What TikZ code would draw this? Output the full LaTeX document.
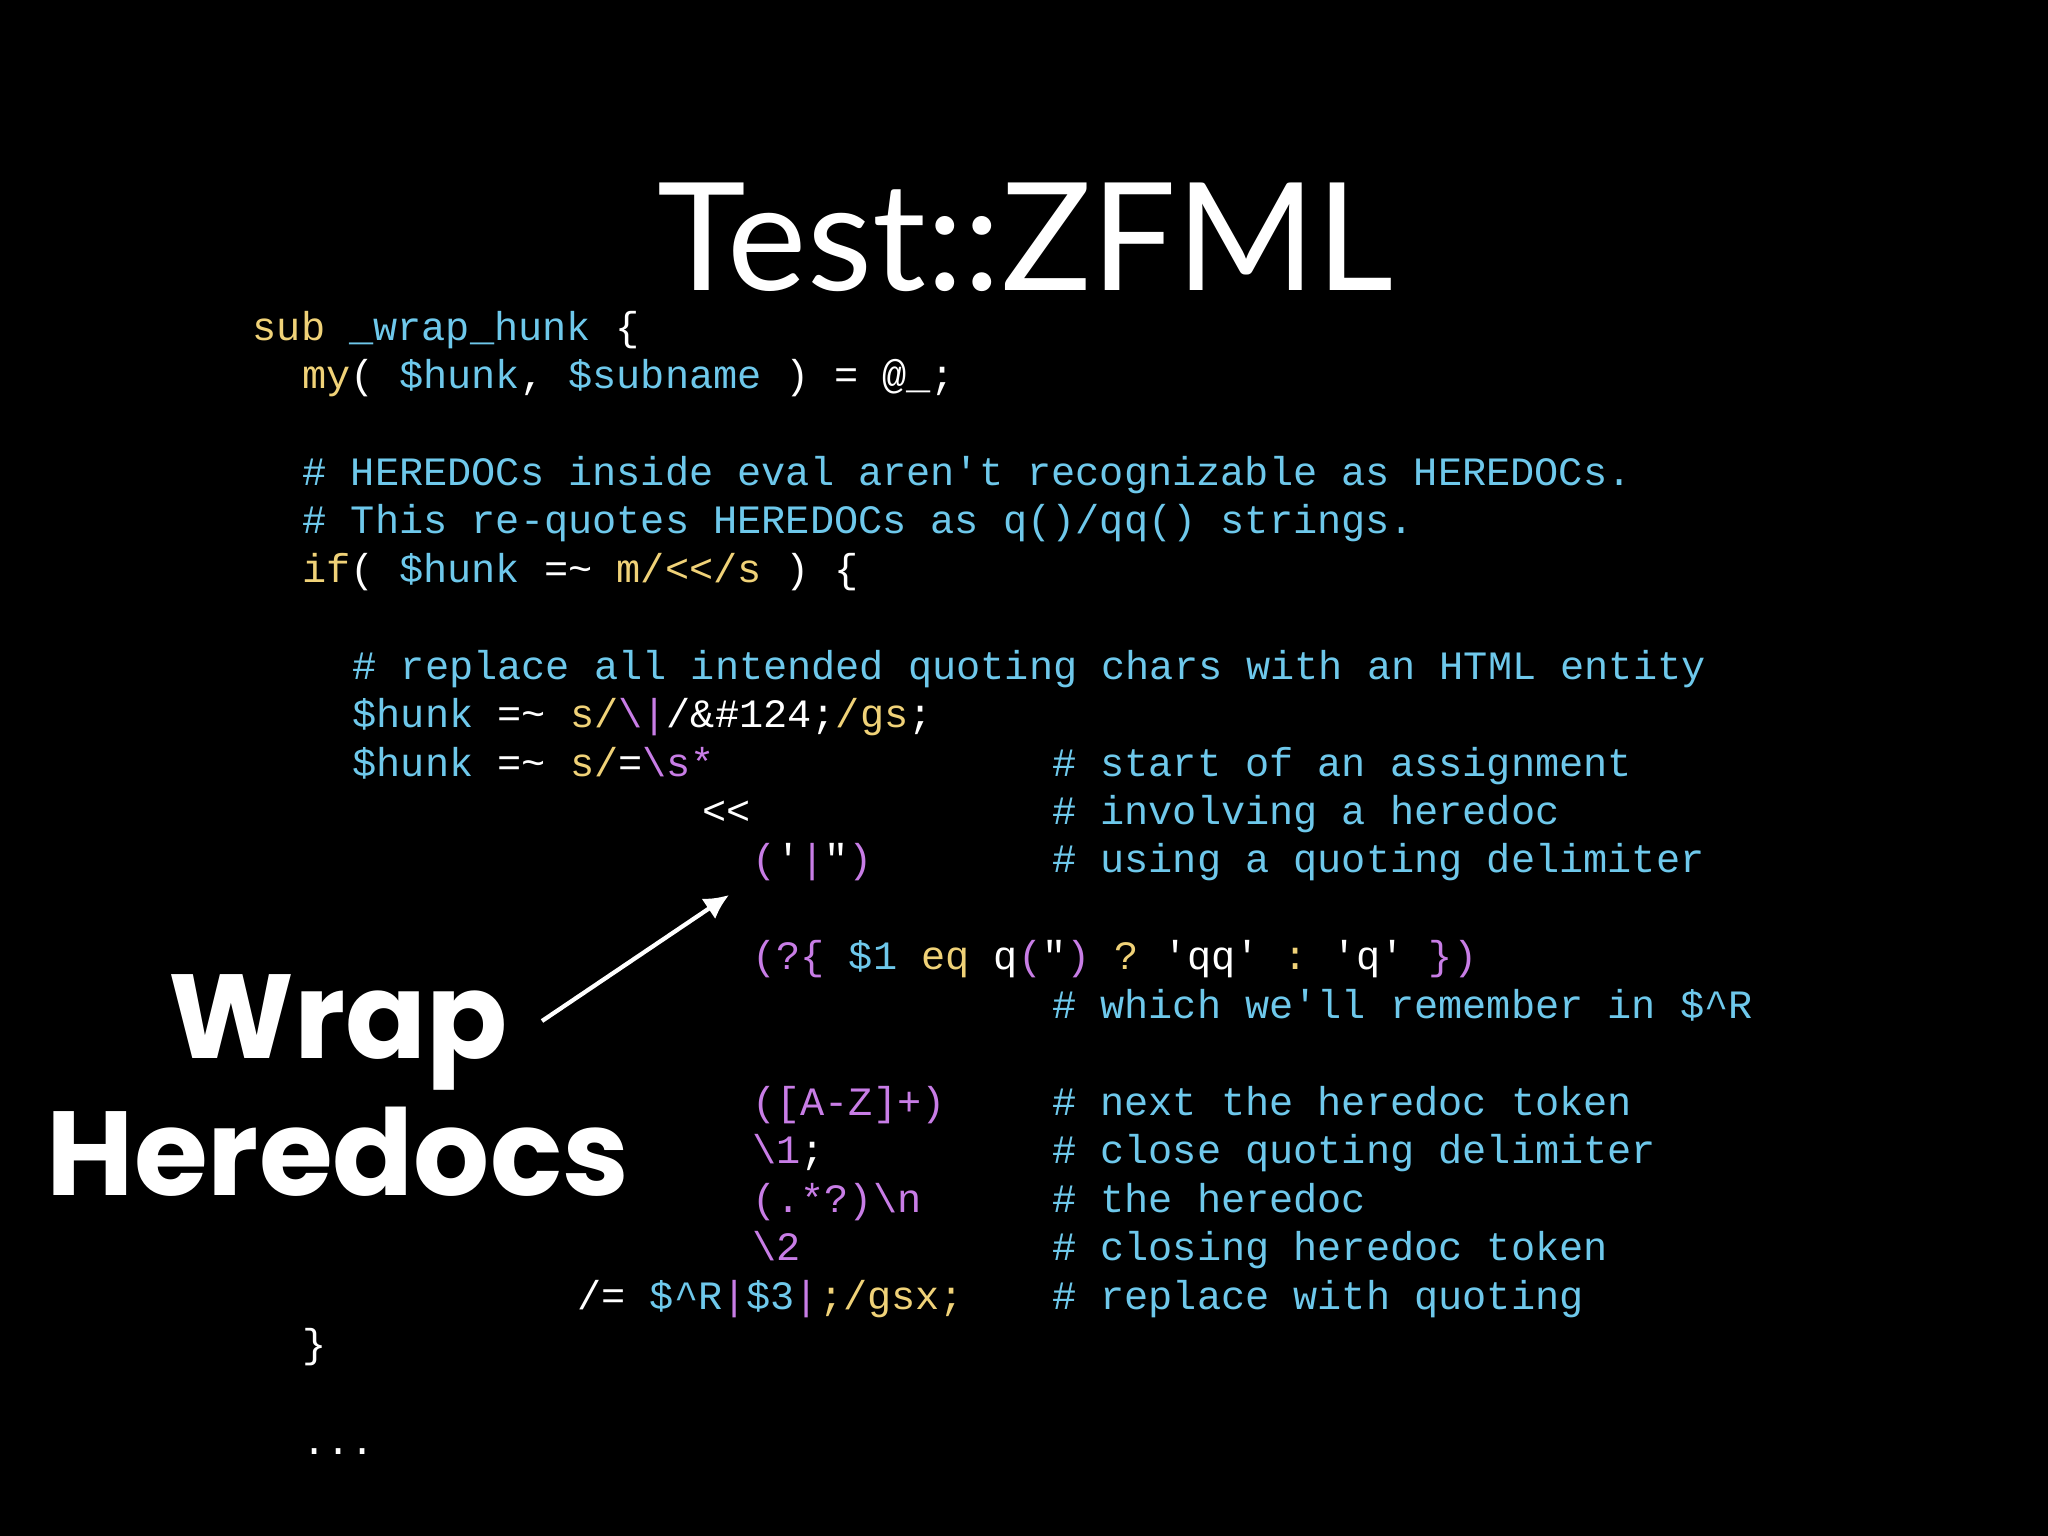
\documentclass[tikz,border=0pt]{standalone}
\usepackage{fontspec}
\usetikzlibrary{arrows.meta}
\newfontfamily\mono{Liberation Mono}
\newfontfamily\titlefont{Lato}
\newfontfamily\boldfont{Poppins}
\definecolor{cy}{RGB}{110,200,235}
\definecolor{ye}{RGB}{240,210,120}
\definecolor{pu}{RGB}{200,125,230}
\newcommand{\Y}[1]{\textcolor{ye}{#1}}
\newcommand{\C}[1]{\textcolor{cy}{#1}}
\newcommand{\Pu}[1]{\textcolor{pu}{#1}}
\newcommand{\sq}{\char39 }
\newcommand{\dq}{\char34 }
\newcommand{\tl}{\char126 }
\newcommand{\ct}{\char94 }
\newcommand{\bs}{\char92 }
\begin{document}
\begin{tikzpicture}[x=0.01cm,y=-0.01cm,
  code/.style={anchor=base west,inner sep=0pt,text=white,font=\mono\fontsize{11.45}{14}\selectfont\frenchspacing},
  cmt/.style={code,text=cy}]
\fill[black] (0,0) rectangle (2048,1536);
\useasboundingbox (0,0) rectangle (2048,1536);
\def\cw{24.98}
\node[anchor=base,inner sep=0pt,text=white,font=\titlefont\fontsize{42.7}{48}\selectfont] (title) at (1025,290) {Test::ZFML};
\node[code] (l0) at ({252+0*\cw},{340+48.45*0}) {\Y{sub} \C{\_wrap\_hunk} \{};
\node[code] (l1) at ({252+2*\cw},{340+48.45*1}) {\Y{my}( \C{\$hunk}, \C{\$subname} ) = @\_;};
\node[cmt] (l3) at ({252+2*\cw},{340+48.45*3}) {\# HEREDOCs inside eval aren\sq t recognizable as HEREDOCs.};
\node[cmt] (l4) at ({252+2*\cw},{340+48.45*4}) {\# This re-quotes HEREDOCs as q()/qq() strings.};
\node[code] (l5) at ({252+2*\cw},{340+48.45*5}) {\Y{if}( \C{\$hunk} =\tl\ \Y{m/<<}\Y{/s} ) \{};
\node[cmt] (l7) at ({252+4*\cw},{340+48.45*7}) {\# replace all intended quoting chars with an HTML entity};
\node[code] (l8) at ({252+4*\cw},{340+48.45*8}) {\C{\$hunk} =\tl\ \Y{s/}\Pu{\bs|}/\&\#124;\Y{/gs};};
\node[code] (l9) at ({252+4*\cw},{340+48.45*9}) {\C{\$hunk} =\tl\ \Y{s/}=\Pu{\bs s*}};
\node[cmt] (c9) at ({252+32*\cw},{340+48.45*9}) {\# start of an assignment};
\node[code] (l10) at ({252+18*\cw},{340+48.45*10}) {<<};
\node[cmt] (c10) at ({252+32*\cw},{340+48.45*10}) {\# involving a heredoc};
\node[code] (l11) at ({252+20*\cw},{340+48.45*11}) {\Pu{(}\sq\Pu{|}\dq\Pu{)}};
\node[cmt] (c11) at ({252+32*\cw},{340+48.45*11}) {\# using a quoting delimiter};
\node[code] (l13) at ({252+20*\cw},{340+48.45*13}) {\Pu{(?\{} \C{\$1} \Y{eq} q\Pu{(}\dq\Pu{)} \Y{?} \sq qq\sq\ \Y{:} \sq q\sq\ \Pu{\})}};
\node[cmt] (c14) at ({252+32*\cw},{340+48.45*14}) {\# which we\sq ll remember in \$\ct R};
\node[code] (l16) at ({252+20*\cw},{340+48.45*16}) {\Pu{([A-Z]+)}};
\node[cmt] (c16) at ({252+32*\cw},{340+48.45*16}) {\# next the heredoc token};
\node[code] (l17) at ({252+20*\cw},{340+48.45*17}) {\Pu{\bs 1};};
\node[cmt] (c17) at ({252+32*\cw},{340+48.45*17}) {\# close quoting delimiter};
\node[code] (l18) at ({252+20*\cw},{340+48.45*18}) {\Pu{(.*?)\bs n}};
\node[cmt] (c18) at ({252+32*\cw},{340+48.45*18}) {\# the heredoc};
\node[code] (l19) at ({252+20*\cw},{340+48.45*19}) {\Pu{\bs 2}};
\node[cmt] (c19) at ({252+32*\cw},{340+48.45*19}) {\# closing heredoc token};
\node[code] (l20) at ({252+13*\cw},{340+48.45*20}) {/= \C{\$\ct R}\Pu{|}\C{\$3}\Pu{|}\Y{;/gsx;}};
\node[cmt] (c20) at ({252+32*\cw},{340+48.45*20}) {\# replace with quoting};
\node[code] (l21) at ({252+2*\cw},{340+48.45*21}) {\}};
\node[code] (l23) at ({252+2*\cw},{340+48.45*23}) {...};
\node[anchor=base,inner sep=0pt,text=white,font=\boldfont\bfseries\fontsize{34}{38}\selectfont] (wrap) at (338,1058) {Wrap};
\node[anchor=base,inner sep=0pt,text=white,font=\boldfont\bfseries\fontsize{34}{38}\selectfont] (here) at (338,1195) {Heredocs};
\coordinate (a0) at (542,1021);
\coordinate (a1) at (729,895);
\draw[white,line width=1.2pt,-{Latex[length=7pt,width=7pt]}] (a0) -- (a1);
\end{tikzpicture}
\end{document}
